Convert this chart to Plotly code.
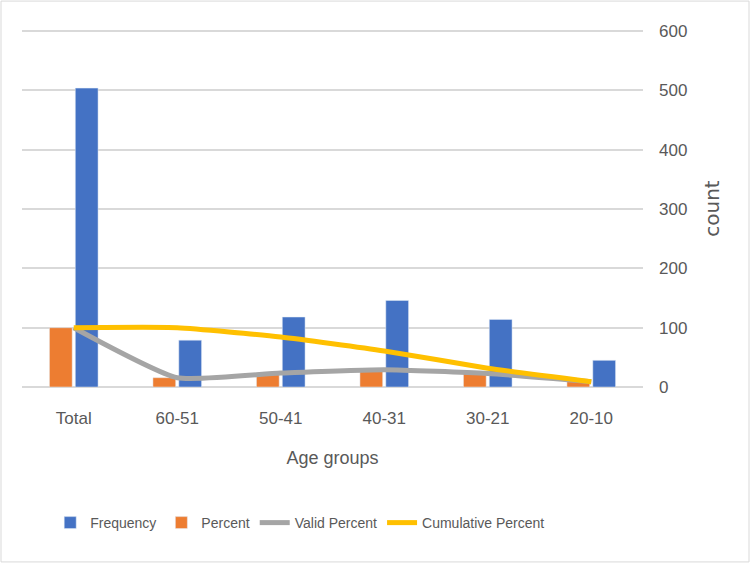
import plotly.graph_objects as go

categories = ["Total", "60-51", "50-41", "40-31", "30-21", "20-10"]
frequency = [504, 79, 118, 146, 114, 45]
percent = [100, 15.7, 23.5, 29.1, 22.7, 9.0]
valid_percent = [100, 15.7, 23.5, 29.1, 22.7, 9.0]
cumulative_percent = [100, 100, 84.3, 60.8, 31.7, 9.0]
y_ticks = [0, 100, 200, 300, 400, 500, 600]

FONT = "Liberation Sans, Arial"
TXT = "#595959"

fig = go.Figure()
fig.add_trace(go.Bar(x=categories, y=percent, name="Percent", marker_color="#ED7D31", legendrank=2))
fig.add_trace(go.Bar(x=categories, y=frequency, name="Frequency", marker_color="#4472C4", legendrank=1))
fig.add_trace(go.Scatter(x=categories, y=valid_percent, name="Valid Percent", mode="lines", legendrank=3,
                         line=dict(color="#A5A5A5", width=5, shape="spline", smoothing=0.5)))
fig.add_trace(go.Scatter(x=categories, y=cumulative_percent, name="Cumulative Percent", mode="lines", legendrank=4,
                         line=dict(color="#FFC000", width=5, shape="spline", smoothing=0.5)))

fig.update_layout(
    width=750, height=563,
    margin=dict(l=22, r=107, t=30, b=176, autoexpand=False),
    paper_bgcolor="white", plot_bgcolor="white",
    barmode="group", bargap=0.5, bargroupgap=0.12,
    font=dict(family=FONT, size=15, color=TXT),
    legend=dict(orientation="h", x=0.448, xanchor="center", y=-0.381, yanchor="middle",
                font=dict(size=14, color=TXT), itemwidth=30),
    xaxis=dict(type="category", categoryorder="array", categoryarray=categories, automargin=False,
               showgrid=False, showline=False, ticks="", ticklabelstandoff=19,
               title=dict(text="Age groups", font=dict(size=18, color=TXT), standoff=24),
               tickfont=dict(size=17, color=TXT)),
    yaxis=dict(side="right", range=[0, 602], tickvals=y_ticks, showgrid=True, automargin=False,
               gridcolor="#D9D9D9", gridwidth=2, zeroline=True, zerolinecolor="#D9D9D9", zerolinewidth=2,
               showline=False, ticks="", ticklabelstandoff=15,
               tickfont=dict(size=17, color=TXT),
               title=dict(text="count", font=dict(family="DejaVu Sans", size=20, color=TXT), standoff=18)),
    shapes=[dict(type="rect", xref="paper", yref="paper", x0=-0.0338, x1=1.1707, y0=-0.490, y1=1.081,
                 line=dict(color="#D9D9D9", width=1))],
)

fig.write_html("out.html", config={"displayModeBar": False},
               post_script="document.body.style.margin='0';")
